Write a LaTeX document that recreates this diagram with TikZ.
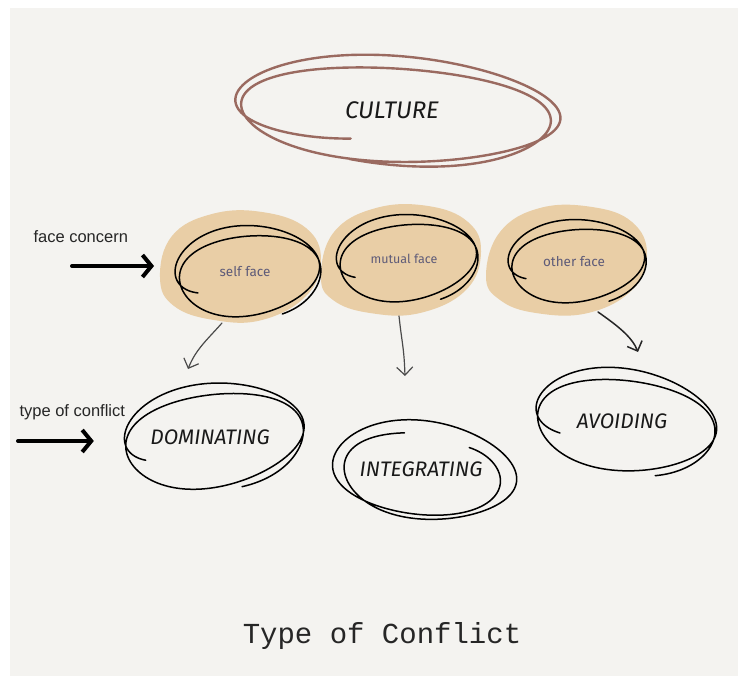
\documentclass[tikz,border=0pt]{standalone}
\usepackage{fontspec}
\setmainfont{Fira Sans}
\newfontfamily\labelfont{Liberation Sans}
\newfontfamily\handfont{Fira Sans}
\newfontfamily\facefont{Fira Sans}
\newfontfamily\titlefont{Liberation Mono}
\usetikzlibrary{arrows.meta,calc}
\definecolor{bg}{HTML}{F4F3F0}
\definecolor{tanblob}{HTML}{E9CEA6}
\definecolor{brownline}{HTML}{9A6A60}
\definecolor{facetext}{HTML}{5E5B78}
\definecolor{inkgray}{HTML}{4A4A4A}
\newcommand\scribloop[7]{%
  \begin{scope}[shift={(#1.center)},rotate=#4]
  \draw[#7] plot[domain=#5:#6,samples=220,smooth,variable=\t]
   ({(#2)*(1-0.25*exp(-(\t-#5)/45)-0.05*(\t-#5)/360+0.04*sin(1.3*\t))*cos(\t)+9*(\t-#5)/360-6},
    {(#3)*(1-0.3*exp(-(\t-#5)/45)-0.06*(\t-#5)/360+0.05*cos(1.4*\t))*sin(\t)+5*(\t-#5)/360-3});
  \end{scope}}
\tikzset{
  scrib/.style={line width=1.5pt,black,line cap=round},
  brownscrib/.style={line width=2.4pt,brownline,line cap=round},
  thinarrow/.style={line width=1.2pt,inkgray,line cap=round,-{Straight Barb[length=8pt,width=16pt]}},
  darkarrow/.style={line width=1.5pt,black!85,line cap=round,-{Straight Barb[length=8pt,width=16pt]}},
  thickarrow/.style={line width=4pt,black,line cap=round,-{Straight Barb[length=9pt,width=22pt]}},
  bigword/.style={font=\handfont\itshape\fontsize{21}{24}\selectfont,text=black!90},
  facelabel/.style={font=\facefont\fontsize{13.5}{16}\selectfont,text=facetext},
  sidelabel/.style={font=\labelfont\fontsize{16.5}{19}\selectfont,text=black!85},
}
\begin{document}
\begin{tikzpicture}[x=1pt,y=-1pt]
\useasboundingbox (0,0) rectangle (744,682);
\fill[white] (0,0) rectangle (744,682);
\fill[bg] (10,8) rectangle (738,676);

% blobs
\fill[tanblob] plot[smooth cycle,tension=0.7] coordinates {(160,278) (172,236) (212,214) (262,212) (306,228) (321,260) (306,296) (262,320) (214,320) (174,306)};
\fill[tanblob] plot[smooth cycle,tension=0.7] coordinates {(321,276) (334,232) (376,208) (428,206) (468,222) (481,252) (466,290) (420,313) (370,313) (333,300)};
\fill[tanblob] plot[smooth cycle,tension=0.7] coordinates {(486,276) (500,232) (540,208) (592,207) (632,222) (647,254) (632,290) (588,313) (536,313) (500,300)};

% nodes
\node[bigword,font=\handfont\itshape\fontsize{24}{27}\selectfont] (culture) at (392,110) {CULTURE};
\node[facelabel] (selfface) at (245,272) {self face};
\node[facelabel,font=\facefont\fontsize{12.5}{14}\selectfont] (mutualface) at (404,259) {mutual face};
\node[facelabel] (otherface) at (574,262) {other face};
\node[bigword] (dom) at (210,437) {DOMINATING};
\node[bigword] (int) at (421,469) {INTEGRATING};
\node[bigword] (avo) at (622,421) {AVOIDING};
\node[sidelabel,anchor=west] (fc) at (30,237) {face concern};
\node[sidelabel,anchor=west] (toc) at (16,412) {type of conflict};
\node[font=\titlefont\fontsize{29}{32}\selectfont,text=black!85] (title) at (382,636) {Type of Conflict};

% scribbles
\scribloop{culture}{168}{53}{-3}{105}{830}{brownscrib}
\scribloop{selfface}{75}{45}{6}{140}{790}{scrib}
\scribloop{mutualface}{73}{43}{6}{145}{790}{scrib}
\scribloop{otherface}{71}{41}{5}{145}{790}{scrib}
\scribloop{dom}{95}{52}{8}{150}{800}{scrib}
\scribloop{int}{94}{50}{-6}{-40}{610}{scrib}
\scribloop{avo}{95}{51}{-6}{140}{790}{scrib}

% connectors
\draw[thickarrow] ($(fc.west)+(42,29)$) -- ($(selfface.west)+(-62,-6)$);
\draw[thickarrow] ($(toc.west)+(2,29)$) -- ($(dom.west)+(-53,4)$);
\draw[thinarrow] ($(selfface)+(-23,51)$) .. controls ($(selfface)+(-38,68)$) and ($(dom)+(-14,-88)$) .. ($(dom)+(-22,-68)$);
\draw[thinarrow] ($(mutualface)+(-5,57)$) .. controls ($(mutualface)+(-2,85)$) and ($(int)+(-17,-122)$) .. ($(int)+(-16,-93)$);
\draw[darkarrow] ($(otherface)+(24,50)$) .. controls ($(otherface)+(44,64)$) and ($(avo)+(10,-84)$) .. ($(avo)+(16,-69)$);
\end{tikzpicture}
\end{document}
